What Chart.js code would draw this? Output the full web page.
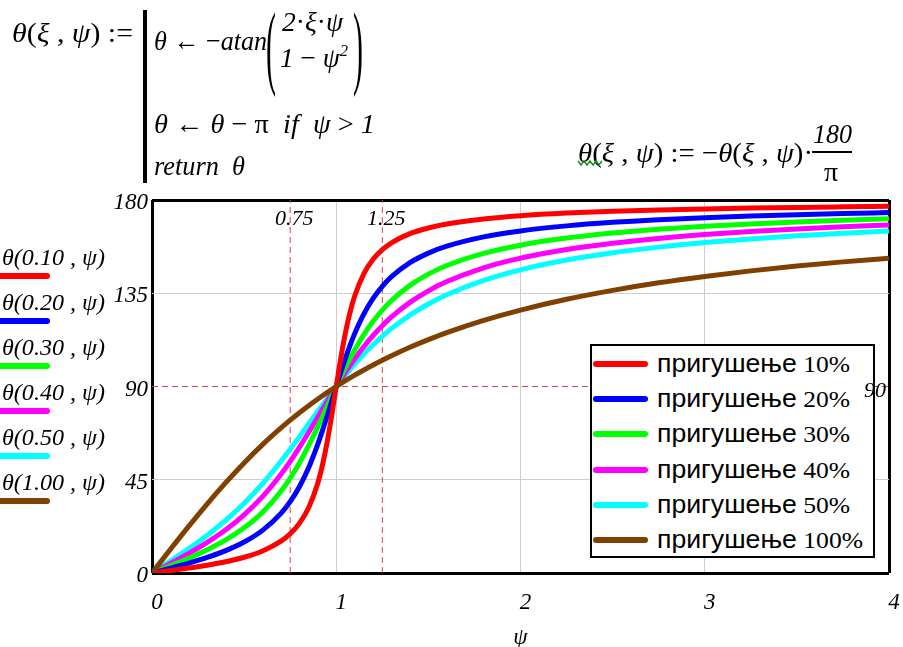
<!DOCTYPE html>
<html><head><meta charset="utf-8">
<script src="https://cdn.jsdelivr.net/npm/chart.js@4/dist/chart.umd.min.js"></script>
<style>
html,body{margin:0;padding:0;background:#fff;}
body{width:903px;height:647px;overflow:hidden;position:relative;font-family:"Liberation Serif",serif;color:#000;}
#c{position:absolute;left:0;top:0;}
.t{position:absolute;white-space:nowrap;line-height:1;font-size:28px;transform-origin:0 50%;}
i{font-style:italic}
.sw{position:absolute;height:6px;border-radius:3px;}
#legend{position:absolute;left:590px;top:344px;width:281px;height:210px;border:2px solid #000;background:#fff;}
.lt{position:absolute;white-space:nowrap;line-height:1;transform-origin:0 50%;}
.lt .w{font-family:"Liberation Sans",Arial,sans-serif;font-size:25px;}
.lt .p{font-family:"Liberation Serif",serif;font-size:24px;}
.sl{position:absolute;white-space:nowrap;line-height:1;font-size:23px;font-style:italic;transform-origin:0 50%;}
.ml{position:absolute;white-space:nowrap;line-height:1;font-size:22px;font-style:italic;}
</style></head>
<body>
<canvas id="c" width="903" height="647"></canvas>

<!-- formula block -->
<span class="t" style="left:12px;top:19px" data-w="121"><i>θ</i>(<i>ξ</i> , <i>ψ</i>) :=</span>
<div style="position:absolute;left:143px;top:10px;width:4px;height:173px;background:#000"></div>
<span class="t" style="left:154px;top:27px" data-w="113"><i>θ</i> ← −<i>atan</i></span>
<span class="t" style="left:266px;top:31px;font-size:30px;transform:scale(1,3.1);transform-origin:0 50%">(</span>
<span class="t" style="left:353px;top:31px;font-size:30px;transform:scale(1,3.1);transform-origin:0 50%">)</span>
<span class="t" style="left:282px;top:8px" data-w="61"><i>2</i>·<i>ξ</i>·<i>ψ</i></span>
<span class="t" style="left:280px;top:44px" data-w="68"><i>1</i> − <i>ψ</i><sup style="font-size:17px;font-style:italic;vertical-align:11px;line-height:0">2</sup></span>
<span class="t" style="left:154px;top:110px" data-w="221"><i>θ</i> ← <i>θ</i> − π&nbsp;&nbsp;<i>if</i>&nbsp;&nbsp;<i>ψ</i> &gt; <i>1</i></span>
<span class="t" style="left:154px;top:152px" data-w="91"><i>return</i>&nbsp;&nbsp;<i>θ</i></span>

<span class="t" style="left:578px;top:139px" data-w="235"><i>θ</i>(<i>ξ</i> , <i>ψ</i>) := −<i>θ</i>(<i>ξ</i> , <i>ψ</i>)·</span>
<svg style="position:absolute;left:576px;top:158px" width="30" height="10"><polyline points="2,3 5,7 8,3 11,7 14,3 17,7 20,3 23,7 26,3" fill="none" stroke="#1a8a1a" stroke-width="1.4"/></svg>
<span class="t" style="left:813px;top:120px" data-w="39"><i>180</i></span>
<div style="position:absolute;left:812px;top:151px;width:40px;height:1.5px;background:#000"></div>
<span class="t" style="left:824px;top:158px">π</span>

<div id="side"></div>
<div id="legend"></div>
<div id="marks"></div>

<script>
// ---------- data ----------
const psi = [0,0.1,0.2,0.3,0.4,0.5,0.6,0.7,0.75,0.8,0.85,0.9,0.925,0.95,0.975,1,1.025,1.05,1.075,1.1,1.15,1.2,1.25,1.3,1.4,1.5,1.6,1.8,2,2.25,2.5,2.75,3,3.25,3.5,3.75,4];
const theta010 = [0,1.16,2.39,3.77,5.44,7.59,10.62,15.35,18.92,23.96,31.49,43.45,52.03,62.84,75.79,90,103.87,116.02,125.90,133.67,144.50,151.39,156.04,159.35,163.74,166.50,168.41,170.87,172.41,173.68,174.56,175.21,175.71,176.11,176.44,176.71,176.95];
const theta020 = [0,2.31,4.76,7.51,10.78,14.93,20.56,28.77,34.44,41.63,50.78,62.18,68.69,75.61,82.78,90,97.04,103.71,109.90,115.51,125.03,132.51,138.37,143.00,149.74,154.36,157.69,162.18,165.07,167.51,169.22,170.48,171.47,172.26,172.91,173.45,173.91];
const theta030 = [0,3.47,7.13,11.19,15.95,21.80,29.36,39.47,45.81,53.13,61.45,70.62,75.42,80.29,85.18,90,94.71,99.24,103.56,107.65,115.05,121.43,126.87,131.50,138.81,144.25,148.39,154.26,158.20,161.62,164.05,165.89,167.32,168.47,169.43,170.23,170.91];
const theta040 = [0,4.62,9.46,14.77,20.85,28.07,36.87,47.68,53.90,60.64,67.80,75.22,78.96,82.69,86.38,90,93.53,96.96,100.26,103.42,109.32,114.62,119.36,123.57,130.60,136.17,140.63,147.26,151.93,156.10,159.15,161.47,163.30,164.79,166.02,167.06,167.96];
const theta050 = [0,5.77,11.77,18.25,25.46,33.69,43.15,53.93,59.74,65.77,71.92,78.08,81.13,84.14,87.10,90,92.83,95.58,98.24,100.81,105.66,110.14,114.23,117.96,124.44,129.81,134.27,141.21,146.31,151.02,154.54,157.26,159.44,161.23,162.72,163.98,165.07];
const theta100 = [0,11.42,22.62,33.40,43.60,53.13,61.93,69.98,73.74,77.32,80.72,83.97,85.54,87.06,88.55,90,91.41,92.80,94.14,95.45,97.98,100.39,102.68,104.86,108.92,112.62,115.99,121.89,126.87,132.09,136.40,140.05,143.13,145.79,148.11,150.14,151.93];
const legendLabels = ['пригушење 10%','пригушење 20%','пригушење 30%','пригушење 40%','пригушење 50%','пригушење 100%'];
const sideLabels = ['θ(0.10 , ψ)','θ(0.20 , ψ)','θ(0.30 , ψ)','θ(0.40 , ψ)','θ(0.50 , ψ)','θ(1.00 , ψ)'];
const xTicks = [0,1,2,3,4];
const yTicks = [0,45,90,135,180];
const markerX = [0.75,1.25];
const markerXLabels = ['0.75','1.25'];
const markerY = [90];
const markerYLabels = ['90'];

// ---------- styles ----------
const colors = ['#ff0000','#0000ff','#00ff00','#ff00ff','#00ffff','#804000'];
const series = [theta010,theta020,theta030,theta040,theta050,theta100];
const xMin = xTicks[0], xMax = xTicks[xTicks.length-1];
const yMin = yTicks[0], yMax = yTicks[yTicks.length-1];
const markColor = '#d6404c';
const tickFont = {family:'Liberation Serif', size:23, style:'italic'};

const datasets = series.map((ys,i)=>({
  data: psi.map((x,j)=>({x:x, y:ys[j]})),
  borderColor: colors[i], backgroundColor: colors[i],
  borderWidth: 5, pointRadius: 0, showLine: true, fill: false,
  cubicInterpolationMode: 'monotone', order: i===5 ? -1 : i
}));
markerX.forEach(v=>datasets.push({data:[{x:v,y:yMin},{x:v,y:yMax}], borderColor:markColor, borderWidth:1, borderDash:[6,4], pointRadius:0, showLine:true, order:20}));
markerY.forEach(v=>datasets.push({data:[{x:xMin,y:v},{x:xMax,y:v}], borderColor:markColor, borderWidth:1, borderDash:[6,4], pointRadius:0, showLine:true, order:20}));

const isEdge = (v,a,b)=> v===a || v===b;
const chart = new Chart(document.getElementById('c'), {
  type: 'scatter',
  data: {datasets},
  options: {
    responsive:false, animation:false, devicePixelRatio:1,
    layout:{padding:{left:0,right:14,top:200,bottom:0}},
    plugins:{legend:{display:false}, tooltip:{enabled:false}},
    scales:{
      x:{type:'linear', min:xMin, max:xMax,
        afterBuildTicks: s=>{ s.ticks = xTicks.map(v=>({value:v})); },
        afterFit: s=>{ s.height = 74; s.paddingRight = 0; },
        ticks:{font:tickFont, color:'#000', padding:16, labelOffset:5, maxRotation:0, callback:v=>String(v)},
        grid:{drawTicks:false,
          color: c=> isEdge(c.tick.value,xMin,xMax) ? '#000' : '#cdcdcd',
          lineWidth: c=> isEdge(c.tick.value,xMin,xMax) ? 3 : 1},
        border:{display:false},
        title:{display:true, text:'ψ', font:{family:'Liberation Serif', size:23, style:'italic', lineHeight:1}, color:'#000', padding:{top:0,bottom:-2}}
      },
      y:{type:'linear', min:yMin, max:yMax,
        afterBuildTicks: s=>{ s.ticks = yTicks.map(v=>({value:v})); },
        afterFit: s=>{ s.width = 152; },
        ticks:{font:tickFont, color:'#000', padding:4, labelOffset:3, callback:v=>String(v)},
        grid:{drawTicks:false,
          color: c=> isEdge(c.tick.value,yMin,yMax) ? '#000' : (markerY.includes(c.tick.value) ? 'rgba(0,0,0,0)' : '#cdcdcd'),
          lineWidth: c=> isEdge(c.tick.value,yMin,yMax) ? 3 : 1},
        border:{display:false}
      }
    }
  }
});

// ---------- side labels ----------
const side = document.getElementById('side');
sideLabels.forEach((s,i)=>{
  const sp = document.createElement('span');
  sp.className = 'sl';
  sp.style.left = '2px'; sp.style.top = (246 + i*45) + 'px';
  sp.dataset.w = '103';
  sp.textContent = s;
  side.appendChild(sp);
  const ln = document.createElement('div');
  ln.className = 'sw';
  ln.style.left = '-4px'; ln.style.width = '54px'; ln.style.top = (273 + i*45) + 'px';
  ln.style.background = colors[i];
  side.appendChild(ln);
});

// ---------- legend ----------
const lg = document.getElementById('legend');
legendLabels.forEach((s,i)=>{
  const k = s.lastIndexOf(' ');
  const cy = 18 + i*35.2;
  const sw = document.createElement('div');
  sw.className = 'sw';
  sw.style.left = '1px'; sw.style.width = '55px'; sw.style.top = (cy-3) + 'px';
  sw.style.background = colors[i];
  lg.appendChild(sw);
  const t = document.createElement('span');
  t.className = 'lt';
  t.style.left = '65px'; t.style.top = (cy-13) + 'px';
  t.dataset.w = (i===5 ? 206 : 193);
  const a = document.createElement('span'); a.className='w'; a.textContent = s.slice(0,k);
  const b = document.createElement('span'); b.className='p'; b.textContent = ' ' + s.slice(k+1);
  t.appendChild(a); t.appendChild(b);
  lg.appendChild(t);
});

// ---------- marker labels ----------
const marks = document.getElementById('marks');
const xs = chart.scales.x, ys = chart.scales.y;
markerX.forEach((v,i)=>{
  const sp = document.createElement('span');
  sp.className = 'ml'; sp.textContent = markerXLabels[i];
  marks.appendChild(sp);
  const w = sp.getBoundingClientRect().width;
  sp.style.left = (xs.getPixelForValue(v) - w/2 + 4) + 'px';
  sp.style.top = (chart.chartArea.top + 7) + 'px';
});
markerY.forEach((v,i)=>{
  const sp = document.createElement('span');
  sp.className = 'ml'; sp.textContent = markerYLabels[i];
  marks.appendChild(sp);
  const w = sp.getBoundingClientRect().width;
  sp.style.left = (chart.chartArea.right - w - 3) + 'px';
  sp.style.top = (ys.getPixelForValue(v) - 8) + 'px';
});

// ---------- fit text widths ----------
document.querySelectorAll('[data-w]').forEach(el=>{
  el.style.transform = 'none';
  const w = el.getBoundingClientRect().width;
  el.style.transform = 'scaleX(' + (+el.dataset.w / w) + ')';
});
</script>
</body></html>
